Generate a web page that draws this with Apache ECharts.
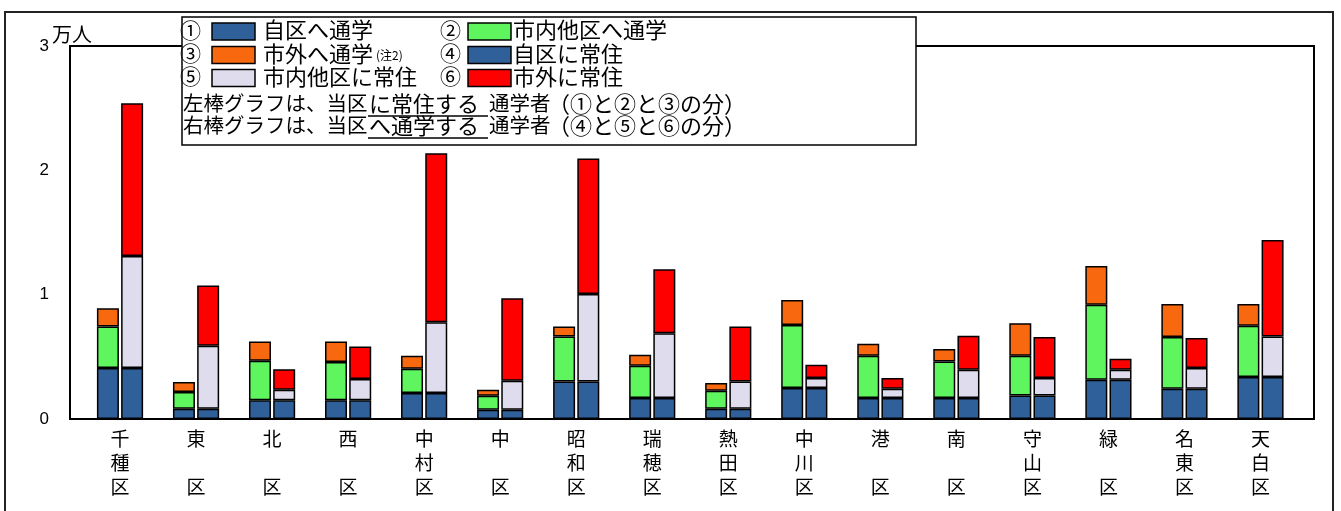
<!DOCTYPE html>
<html><head><meta charset="utf-8">
<script src="https://cdn.jsdelivr.net/npm/echarts@6/dist/echarts.min.js"></script>
<style>html,body{margin:0;padding:0;background:#fff}#c{width:1341px;height:511px}</style>
</head><body><div id="c"></div>
<script>
const categories = ['千種区','東区','北区','西区','中村区','中区','昭和区','瑞穂区','熱田区','中川区','港区','南区','守山区','緑区','名東区','天白区'];
const yTicks = ['0','1','2','3'];
// 単位：万人
const s1 = [0.41,0.083,0.15,0.15,0.209,0.075,0.302,0.168,0.083,0.249,0.168,0.168,0.19,0.316,0.243,0.337];   // ①自区へ通学
const s2 = [0.334,0.134,0.318,0.308,0.195,0.112,0.362,0.26,0.144,0.508,0.34,0.295,0.318,0.602,0.416,0.412]; // ②市内他区へ通学
const s3 = [0.146,0.08,0.156,0.166,0.104,0.048,0.08,0.088,0.062,0.201,0.097,0.099,0.263,0.313,0.265,0.175]; // ③市外へ通学
const s4 = [0.41,0.083,0.15,0.15,0.209,0.075,0.302,0.168,0.083,0.249,0.168,0.168,0.19,0.316,0.243,0.337];   // ④自区に常住
const s5 = [0.90,0.506,0.085,0.171,0.57,0.232,0.704,0.522,0.219,0.08,0.075,0.228,0.139,0.08,0.167,0.327];   // ⑤市内他区に常住
const s6 = [1.23,0.484,0.165,0.262,1.358,0.665,1.09,0.515,0.442,0.107,0.086,0.273,0.33,0.088,0.241,0.776];  // ⑥市外に常住
const seriesNames = ['自区へ通学','市内他区へ通学','市外へ通学','自区に常住','市内他区に常住','市外に常住'];
const colors = ['#30609a','#5ef55e','#f8690f','#30609a','#dedced','#ff0000'];

const chart = echarts.init(document.getElementById('c'), null, {renderer:'canvas'});
const FF = '"Noto Sans CJK JP", "Noto Sans CJK SC", sans-serif';
const bw = 22;
function mk(i, data, stack){
  return {name: seriesNames[i], type:'bar', stack: stack, data: data, xAxisIndex:1, yAxisIndex:1,
    barWidth: bw, barGap: '10%', itemStyle:{color: colors[i], borderColor:'#000', borderWidth:1.5}, z:3};
}
function legendItem(num, x, y, color, label, xNum, xText){
  return [
    {type:'text', left: xNum-10, top: y-12, z:102, style:{text:num, font:'21px '+FF, fill:'#000'}},
    {type:'rect', shape:{x:x, y:y-8.5, width:43, height:17}, z:102, style:{fill:color, stroke:'#000', lineWidth:1.5}},
    {type:'text', left: xText, top: y-12.5, z:102, style:{text:label, font:'22px '+FF, fill:'#000'}}
  ];
}
const g = [];
g.push({type:'rect', shape:{x:5, y:12, width:1328, height:520}, z:0, silent:true, style:{fill:'none', stroke:'#222', lineWidth:2}});
g.push({type:'text', left:52, top:24, z:10, style:{text:'万人', font:'20px '+FF, fill:'#000'}});
g.push({type:'rect', shape:{x:182, y:17, width:734, height:128}, z:100, style:{fill:'#fff', stroke:'#000', lineWidth:1.5}});
g.push(...legendItem('①',212,31.5,colors[0],'自区へ通学',190,263));
g.push(...legendItem('②',468,31.5,colors[1],'市内他区へ通学',450,513));
g.push(...legendItem('③',212,55,colors[2],'市外へ通学',190,263));
g.push({type:'text', left:376, top:49, z:102, style:{text:'(注2)', font:'12px '+FF, fill:'#000'}});
g.push(...legendItem('④',468,55,colors[3],'自区に常住',450,513));
g.push(...legendItem('⑤',212,78,colors[4],'市内他区に常住',190,263));
g.push(...legendItem('⑥',468,78,colors[5],'市外に常住',450,513));
function noteRow(y, a, b, c, d){
  return [
    {type:'text', left:183, top:y-12, z:102, style:{text:a, font:'20.5px '+FF, fill:'#000'}},
    {type:'text', left:369, top:y-12, z:102, style:{text:b, font:'22px '+FF, fill:'#000'}},
    {type:'line', shape:{x1:368, y1:y+11, x2:488, y2:y+11}, z:102, style:{stroke:'#000', lineWidth:1.5}},
    {type:'text', left:489, top:y-12, z:102, style:{text:c, font:'20.5px '+FF, fill:'#000'}},
    {type:'text', left:548, top:y-12, z:102, style:{text:d, font:'22px '+FF, fill:'#000'}}
  ];
}
g.push(...noteRow(105,'左棒グラフは、当区','に常住する','通学者','（①と②と③の分）'));
g.push(...noteRow(127,'右棒グラフは、当区','へ通学する','通学者','（④と⑤と⑥の分）'));

const option = {
  animation:false,
  textStyle:{fontFamily:FF},
  grid:[
    {left:70, right:27, top:46, bottom:92, show:true, borderColor:'#000', borderWidth:2, backgroundColor:'#fff', z:1},
    {left:82, right:42.5, top:46, bottom:92}
  ],
  xAxis:[
    {gridIndex:0, type:'category', data:[''], show:false},
    {gridIndex:1, type:'category', data:categories,
      axisLine:{show:false}, axisTick:{show:false},
      axisLabel:{interval:0, margin:8, color:'#000', fontSize:19, lineHeight:24, fontFamily:FF,
        formatter:function(v){ const c=v.split(''); return c.length===2 ? c[0]+'\n\n'+c[1] : c.join('\n'); }}}
  ],
  yAxis:[
    {gridIndex:0, type:'value', min:0, max:3, interval:1,
      axisLine:{show:false}, axisTick:{show:false},
      axisLabel:{margin:21, color:'#000', fontSize:17, fontFamily:'"Liberation Sans", Arial, sans-serif',
        formatter:function(v){ return yTicks[Math.round(v)]; }},
      splitLine:{show:true, lineStyle:{color:'#000', width:1.5}}},
    {gridIndex:1, type:'value', min:0, max:3, interval:1, show:false, splitLine:{show:false}}
  ],
  series:[ mk(0,s1,'L'), mk(1,s2,'L'), mk(2,s3,'L'), mk(3,s4,'R'), mk(4,s5,'R'), mk(5,s6,'R') ],
  graphic: g
};
chart.setOption(option);
</script></body></html>
